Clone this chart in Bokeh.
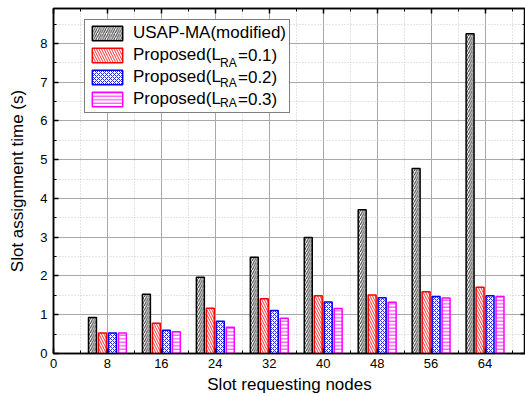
from bokeh.plotting import figure
from bokeh.models import (Range1d, LinearAxis, FixedTicker, Legend, LegendItem,
                          ColumnDataSource, CustomJSTickFormatter)
from bokeh.transform import dodge
from bokeh.embed import file_html
from bokeh.resources import INLINE

# ---- data ----
nodes = [8, 16, 24, 32, 40, 48, 56, 64]
usap_ma = [0.93, 1.53, 1.97, 2.48, 2.99, 3.71, 4.77, 8.25]
prop_01 = [0.53, 0.78, 1.17, 1.41, 1.49, 1.51, 1.59, 1.71]
prop_02 = [0.53, 0.60, 0.83, 1.11, 1.33, 1.44, 1.47, 1.49]
prop_03 = [0.53, 0.56, 0.68, 0.91, 1.16, 1.32, 1.43, 1.47]
x_ticks = [0, 8, 16, 24, 32, 40, 48, 56, 64]
y_ticks = [0, 1, 2, 3, 4, 5, 6, 7, 8]
legend_main = ["USAP-MA(modified)", "Proposed(L", "Proposed(L", "Proposed(L"]
legend_sub = [" ", "RA", "RA", "RA"]
legend_tail = [" ", "=0.1)", "=0.2)", "=0.3)"]

FONT = "Liberation Sans"

src = ColumnDataSource(dict(x=nodes, a=usap_ma, b=prop_01, c=prop_02, d=prop_03))

p = figure(width=525, height=397, output_backend="svg", toolbar_location=None,
           x_range=Range1d(0, 70), y_range=Range1d(0, 8.9),
           min_border_left=53, min_border_right=0, min_border_top=8,
           min_border_bottom=44)
p.background_fill_color = "white"
p.border_fill_color = "white"
p.outline_line_color = "black"
p.outline_line_width = 1.5

styles = [
    ("a", -2.22, "black", "#333333", "right_diagonal_line", 4.5),
    ("b", -0.74, "#ff0000", "#ff3030", "left_diagonal_line", 5),
    ("c", 0.74, "#0000ff", "#2020ff", "diagonal_cross", 4),
    ("d", 2.22, "#ff00ff", "#ff20ff", "horizontal_line", 3.5),
]
renderers = []
for col, off, lc, hc, hp, hs in styles:
    r = p.vbar(x=dodge("x", off), top=col, width=1.18, source=src,
               fill_color="white", line_color=lc, line_width=1.5,
               hatch_pattern=hp, hatch_color=hc, hatch_scale=hs,
               hatch_weight=1)
    renderers.append(r)

# invisible renderer used only for text-only legend rows
dummy = p.scatter(x=[], y=[], size=1, fill_alpha=0, line_alpha=0)

xt = FixedTicker(ticks=x_ticks, minor_ticks=[t + 4 for t in x_ticks])
yt = FixedTicker(ticks=y_ticks, minor_ticks=[t + 0.5 for t in y_ticks])

p.xaxis.ticker = xt
p.yaxis.ticker = yt
for ax in (p.xaxis[0], p.yaxis[0]):
    ax.axis_line_width = 1.5
    ax.axis_line_color = "black"
    ax.major_tick_in = 5
    ax.major_tick_out = 0
    ax.minor_tick_in = 3
    ax.minor_tick_out = 0
    ax.major_tick_line_width = 1.5
    ax.major_label_text_font = FONT
    ax.major_label_text_font_size = "13px"
    ax.major_label_text_color = "black"
    ax.axis_label_text_font = FONT
    ax.axis_label_text_font_size = "17px"
    ax.axis_label_text_font_style = "normal"
    ax.axis_label_text_color = "black"
p.xaxis.axis_label = "Slot requesting nodes"
p.yaxis.axis_label = "Slot assignment time (s)"
p.xaxis.major_label_standoff = 5
p.yaxis.major_label_standoff = 6
p.xaxis.axis_label_standoff = 4
p.yaxis.axis_label_standoff = 10

blank = CustomJSTickFormatter(code="return '';")
for loc, tk in (("above", xt), ("right", yt)):
    ax = LinearAxis(ticker=tk, formatter=blank, axis_line_width=1.5,
                    axis_line_color="black",
                    major_tick_in=5, major_tick_out=0, minor_tick_in=3,
                    minor_tick_out=0, major_tick_line_width=1.5,
                    major_label_standoff=0)
    p.add_layout(ax, loc)

for g in (p.xgrid[0], p.ygrid[0]):
    g.grid_line_color = "#a8a8a8"
    g.grid_line_width = 1
    g.minor_grid_line_color = "#c8c8c8"
    g.minor_grid_line_dash = "1 2"
    g.minor_grid_line_width = 1

# main legend: hatched swatches + main label text
items = [LegendItem(label=legend_main[i], renderers=[renderers[i]])
         for i in range(4)]
leg = Legend(items=items, location=(31, 240), glyph_width=38, glyph_height=18,
             label_height=18, spacing=2, padding=3, label_standoff=7,
             label_width=153, border_line_color="black", border_line_width=1,
             label_text_font=FONT, label_text_font_size="17px",
             label_text_color="black", background_fill_alpha=1, margin=0)
p.add_layout(leg)

# subscript "RA" rows (smaller, lowered)
sub_items = [LegendItem(label=legend_sub[i], renderers=[dummy]) for i in range(4)]
leg_sub = Legend(items=sub_items, location=(166, 241), glyph_width=1,
                 glyph_height=18, label_height=18, spacing=2, padding=0,
                 label_standoff=0, label_width=10, border_line_alpha=0,
                 background_fill_alpha=0, label_text_font=FONT,
                 label_text_font_size="12px", label_text_color="black",
                 margin=0)
p.add_layout(leg_sub)

# tail "=0.x)" rows
tail_items = [LegendItem(label=legend_tail[i], renderers=[dummy]) for i in range(4)]
leg_tail = Legend(items=tail_items, location=(184, 243), glyph_width=1,
                  glyph_height=18, label_height=18, spacing=2, padding=0,
                  label_standoff=0, label_width=10, border_line_alpha=0,
                  background_fill_alpha=0, label_text_font=FONT,
                  label_text_font_size="17px", label_text_color="black",
                  margin=0)
p.add_layout(leg_tail)

open("out.html", "w").write(file_html(p, INLINE))
